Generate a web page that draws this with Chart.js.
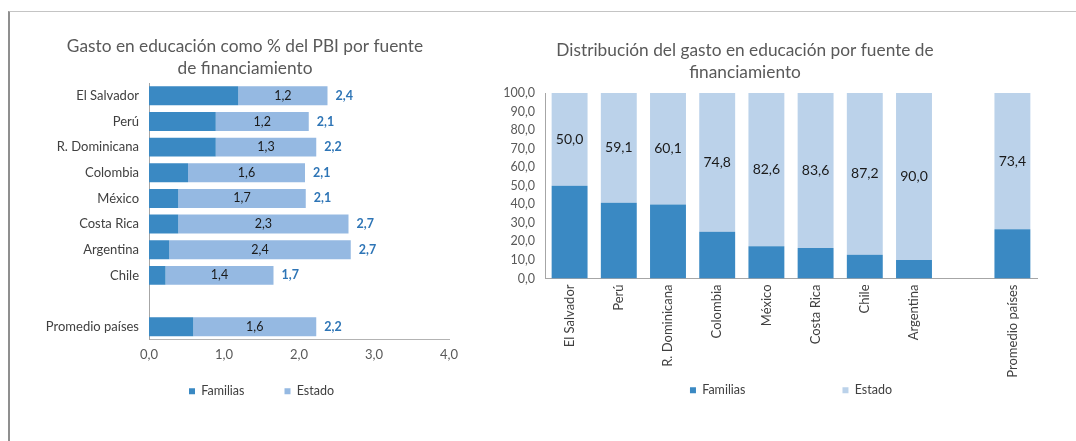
<!DOCTYPE html>
<html lang="es">
<head>
<meta charset="utf-8">
<title>Gasto en educación por fuente de financiamiento</title>
<script src="https://cdn.jsdelivr.net/npm/chart.js@4.4.1/dist/chart.umd.min.js"></script>
<style>
    html, body { margin: 0; padding: 0; background: #fff; }
    body { width: 1076px; height: 441px; position: relative; overflow: hidden; }
    .marco {
        position: absolute; left: 8px; top: 11px; width: 1090px; height: 450px;
        border-top: 1px solid #c4c4c4; border-left: 2px solid #8f8f8f;
    }
    .panel { position: absolute; }
    #panelPbi { left: 10px; top: 12px; width: 470px; height: 418px; }
    #panelDist { left: 445px; top: 12px; width: 600px; height: 496px; }
</style>
</head>
<body>
<div class="marco"></div>
<div class="panel" id="panelPbi"><canvas id="chartPbi"></canvas></div>
<div class="panel" id="panelDist"><canvas id="chartDist"></canvas></div>

<script>
// --- Datos: gasto como % del PBI ---
const paisesPbi = ['El Salvador', 'Perú', 'R. Dominicana', 'Colombia', 'México', 'Costa Rica', 'Argentina', 'Chile', '', 'Promedio países'];
const pbiFamilias = [1.19, 0.89, 0.89, 0.52, 0.39, 0.39, 0.27, 0.22, null, 0.59];
const pbiEstado = [1.19, 1.24, 1.34, 1.56, 1.70, 2.27, 2.42, 1.44, null, 1.64];
const pbiEje = [0, 1, 2, 3, 4];

// --- Datos: distribucion del gasto (%) ---
const paisesDist = ['El Salvador', 'Perú', 'R. Dominicana', 'Colombia', 'México', 'Costa Rica', 'Chile', 'Argentina', '', 'Promedio países'];
const distFamilias = [50.0, 40.9, 39.9, 25.2, 17.4, 16.4, 12.8, 10.0, null, 26.6];
const distEstado = [50.0, 59.1, 60.1, 74.8, 82.6, 83.6, 87.2, 90.0, null, 73.4];
const distEje = [0, 100];

const AZUL = '#3a89c3';
const CELESTE_PBI = '#95b9e2';
const CELESTE_DIST = '#bbd2ea';
const FUENTE = 'Lato, "DejaVu Sans", sans-serif';

Chart.defaults.font.family = FUENTE;
Chart.defaults.font.size = 12;
Chart.defaults.color = '#595959';

function fmt(v) {
    return Number(v).toFixed(1).replace('.', ',');
}

// eje vacio a la derecha, solo para reservar espacio
function ejeReserva(ancho) {
    return {
        type: 'linear', position: 'right', display: true,
        grid: { display: false, drawTicks: false },
        border: { display: false },
        ticks: { display: false },
        afterFit(s) { s.width = ancho; }
    };
}

// La leyenda se pinta un poco mas arriba (como en el original)
// 16 = medio renglon + margen interno de la leyenda
const moverLeyenda = {
    id: 'moverLeyenda',
    afterLayout(chart, args, opts) {
        const lg = chart.legend;
        if (!lg || opts.centro == null) return;
        const alto = lg.bottom - lg.top;
        lg.top = opts.centro - lg.options.labels.padding - 16;
        lg.bottom = lg.top + alto;
    }
};

// Etiquetas: valor Estado dentro de la barra + total al final
const etiquetasPbi = {
    id: 'etiquetasPbi',
    afterDatasetsDraw(chart) {
        const ctx = chart.ctx;
        const barras = chart.getDatasetMeta(1).data;
        ctx.save();
        ctx.textBaseline = 'middle';
        barras.forEach(function (bar, i) {
            if (pbiEstado[i] == null) return;
            ctx.font = '12.5px ' + FUENTE;
            ctx.fillStyle = '#1a1a1a';
            ctx.textAlign = 'center';
            ctx.fillText(fmt(pbiEstado[i]), (bar.base + bar.x) / 2, bar.y);
            ctx.font = 'bold 12.5px ' + FUENTE;
            ctx.fillStyle = '#2e75b6';
            ctx.textAlign = 'left';
            ctx.fillText(fmt(pbiFamilias[i] + pbiEstado[i]), bar.x + 8, bar.y);
        });
        ctx.restore();
    }
};

const etiquetasDist = {
    id: 'etiquetasDist',
    afterDatasetsDraw(chart) {
        const ctx = chart.ctx;
        const barras = chart.getDatasetMeta(1).data;
        ctx.save();
        ctx.textBaseline = 'middle';
        ctx.textAlign = 'center';
        ctx.font = '14px ' + FUENTE;
        ctx.fillStyle = '#1a1a1a';
        barras.forEach(function (bar, i) {
            if (distEstado[i] == null) return;
            ctx.fillText(fmt(distEstado[i]), bar.x, (bar.y + bar.base) / 2);
        });
        ctx.restore();
    }
};

// === Grafico 1: % del PBI (barras horizontales apiladas) ===
new Chart(document.getElementById('chartPbi'), {
    type: 'bar',
    data: {
        labels: paisesPbi,
        datasets: [
            { label: 'Familias', data: pbiFamilias, backgroundColor: AZUL, barPercentage: 0.74, categoryPercentage: 1 },
            { label: 'Estado', data: pbiEstado, backgroundColor: CELESTE_PBI, barPercentage: 0.74, categoryPercentage: 1 }
        ]
    },
    options: {
        indexAxis: 'y',
        responsive: true,
        maintainAspectRatio: false,
        animation: false,
        plugins: {
            title: {
                display: true,
                text: ['Gasto en educación como % del PBI por fuente', 'de financiamiento'],
                color: '#595959',
                font: { size: 17.3, weight: 'normal', lineHeight: '22px' },
                padding: { top: 23, bottom: 4 }
            },
            legend: {
                position: 'bottom',
                align: 'start',
                fullSize: false,
                labels: { boxWidth: 6, boxHeight: 6, padding: 40, color: '#404040', font: { size: 12.5 } }
            },
            moverLeyenda: { centro: 389 },
            tooltip: { enabled: false }
        },
        scales: {
            x: {
                stacked: true,
                min: pbiEje[0],
                max: pbiEje[pbiEje.length - 1],
                grid: { display: false, drawTicks: false },
                border: { display: true, color: '#b3b3b3' },
                ticks: { stepSize: 1, padding: 8, font: { size: 13 }, callback: function (v) { return fmt(v); } },
                afterFit(s) { s.height = 28; }
            },
            y: {
                stacked: true,
                grid: { display: false, drawTicks: false },
                border: { display: true, color: '#a6a6a6' },
                ticks: { color: '#404040', padding: 10, font: { size: 13 } },
                afterFit(s) { s.width = 139; }
            },
            y2: ejeReserva(31)
        }
    },
    plugins: [etiquetasPbi, moverLeyenda]
});

// === Grafico 2: distribucion (columnas apiladas 100%) ===
new Chart(document.getElementById('chartDist'), {
    type: 'bar',
    data: {
        labels: paisesDist,
        datasets: [
            { label: 'Familias', data: distFamilias, backgroundColor: AZUL, barPercentage: 0.73, categoryPercentage: 1 },
            { label: 'Estado', data: distEstado, backgroundColor: CELESTE_DIST, barPercentage: 0.73, categoryPercentage: 1 }
        ]
    },
    options: {
        responsive: true,
        maintainAspectRatio: false,
        animation: false,
        plugins: {
            title: {
                display: true,
                text: ['Distribución del gasto en educación por fuente de', 'financiamiento'],
                color: '#595959',
                font: { size: 17.3, weight: 'normal', lineHeight: '22px' },
                padding: { top: 27, bottom: 10 }
            },
            legend: {
                position: 'bottom',
                align: 'center',
                fullSize: false,
                labels: { boxWidth: 6, boxHeight: 6, padding: 97, color: '#404040', font: { size: 12.5 } }
            },
            moverLeyenda: { centro: 388 },
            tooltip: { enabled: false }
        },
        scales: {
            x: {
                stacked: true,
                grid: { display: false, drawTicks: false },
                border: { display: true, color: '#a6a6a6' },
                ticks: { autoSkip: false, minRotation: 90, maxRotation: 90, padding: 6, color: '#404040', font: { size: 13 } },
                afterFit(s) { s.height = 110; }
            },
            y: {
                stacked: true,
                min: distEje[0],
                max: distEje[1],
                grid: { display: false, drawTicks: false },
                border: { display: true, color: '#a6a6a6' },
                ticks: { stepSize: 10, padding: 10, font: { size: 12.5 }, callback: function (v) { return fmt(v); } },
                afterFit(s) { s.width = 100; }
            },
            y2: ejeReserva(8)
        }
    },
    plugins: [etiquetasDist, moverLeyenda]
});
</script>
</body>
</html>
